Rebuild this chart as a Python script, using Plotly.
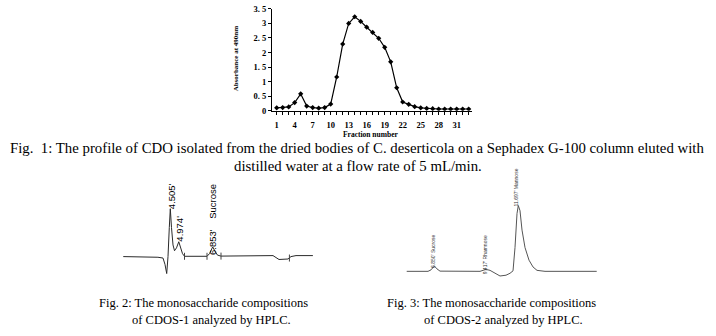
import plotly.graph_objects as go

W, H = 716, 336

# ---------------- Fig. 1 data (Sephadex G-100 elution profile) ----------------
fractions = list(range(1, 34))
absorbance = [0.10, 0.11, 0.13, 0.28, 0.58, 0.16, 0.11, 0.09, 0.11, 0.23,
              1.16, 2.29, 3.00, 3.23, 3.07, 2.87, 2.69, 2.49, 2.18, 1.68,
              0.79, 0.30, 0.22, 0.14, 0.10, 0.08, 0.07, 0.06, 0.06, 0.06,
              0.06, 0.06, 0.06]
x_tick_labels = ["1", "4", "7", "10", "13", "16", "19", "22", "25", "28", "31"]
y_tick_vals = [0, 0.5, 1, 1.5, 2, 2.5, 3, 3.5]
y_tick_text = ["0", "0. 5", "1", "1. 5", "2", "2. 5", "3", "3. 5"]

# ---------------- Fig. 2 data (HPLC of CDOS-1) ----------------
cdos1_time = [1.90, 3.38, 3.82, 4.10, 4.21, 4.306, 4.378, 4.45, 4.505, 4.571,
              4.655, 4.738, 4.848, 4.974, 5.07, 5.181, 5.291, 6.537, 6.676,
              6.853, 6.98, 7.118, 7.312, 10.192, 10.524, 10.801, 11.022,
              11.188, 11.465, 12.40]
cdos1_signal = [0, 0, -0.7, -1.5, -8, -17.5, 0, 30, 49.3, 30,
                12, 6, 9, 15.3, 10, 3, 0.3, 0.3, 3,
                10, 5.5, 1.5, 0.5, 1, -3, -2.8, -2.5,
                0, 1, 1]
cdos1_marks_t = [5.291, 6.537, 7.312, 11.10]
cdos1_marks_v = [0.3, 0.3, 0.5, -1.5]
cdos1_labels = ["4.505'", "4.974'", "6.853'    Sucrose"]

# ---------------- Fig. 3 data (HPLC of CDOS-2) ----------------
cdos2_time = [5.252, 6.485, 6.659, 6.850, 7.006, 7.180, 9.496, 9.670, 9.844,
              10.076, 10.307, 10.654, 11.002, 11.234, 11.408, 11.523, 11.639,
              11.714, 11.813, 11.929, 12.102, 12.334, 12.565, 12.797, 13.26,
              16.254]
cdos2_signal = [0, 0, 1.5, 5.5, 2.5, 0.2, 0, 1, 2,
                1, -1, -4.8, -4, -2, 0.5, 24.5, 59.5,
                67.8, 62.5, 42.5, 24.5, 11.5, 4.5, 1, 0,
                0]
cdos2_labels = ["6.850' Sucrose", "9.417' Rhamnose", "11.697' Mannose"]

caption1 = ["Fig.  1: The profile of CDO isolated from the dried bodies of C. deserticola on a Sephadex G-100 column eluted with",
            "distilled water at a flow rate of 5 mL/min."]
caption2 = ["Fig. 2: The monosaccharide compositions", "of CDOS-1 analyzed by HPLC."]
caption3 = ["Fig. 3: The monosaccharide compositions", "of CDOS-2 analyzed by HPLC."]


def fx(px):
    return px / W


def fy(py):
    return 1 - py / H


SERIF = "Liberation Serif"
SANS = "Liberation Sans"

fig = go.Figure()

fig.add_trace(go.Scatter(
    x=fractions, y=absorbance, mode="lines+markers",
    line=dict(color="black", width=1.2),
    marker=dict(symbol="diamond", size=4, color="black"),
    xaxis="x", yaxis="y", showlegend=False, hoverinfo="skip"))

fig.add_trace(go.Scatter(
    x=cdos1_time, y=cdos1_signal, mode="lines",
    line=dict(color="#2a2a2a", width=1),
    xaxis="x2", yaxis="y2", showlegend=False, hoverinfo="skip"))
fig.add_trace(go.Scatter(
    x=cdos1_marks_t, y=cdos1_marks_v, mode="markers",
    marker=dict(symbol="line-ns", size=5, line=dict(color="#444", width=1)),
    xaxis="x2", yaxis="y2", showlegend=False, hoverinfo="skip"))

fig.add_trace(go.Scatter(
    x=cdos2_time, y=cdos2_signal, mode="lines",
    line=dict(color="#555555", width=1),
    xaxis="x3", yaxis="y3", showlegend=False, hoverinfo="skip"))

tick_text_all = [str(f) if str(f) in x_tick_labels else "" for f in fractions]

tickfont = dict(family=SERIF, size=8.5, color="black", weight="bold")

fig.update_layout(
    width=W, height=H,
    margin=dict(l=0, r=0, t=0, b=0),
    paper_bgcolor="white", plot_bgcolor="rgba(0,0,0,0)",
    xaxis=dict(domain=[fx(272), fx(472)], range=[0.217, 33.55],
               showline=True, linecolor="black", linewidth=1,
               ticks="outside", ticklen=3, tickcolor="black", tickwidth=1,
               tickmode="array", tickvals=fractions, ticktext=tick_text_all,
               ticklabelstandoff=3, ticklabeloverflow="allow",
               tickfont=tickfont, showgrid=False, zeroline=False,
               fixedrange=True),
    yaxis=dict(domain=[fy(109), fy(4)], range=[0, 3.5001],
               showline=True, linecolor="black", linewidth=1,
               ticks="outside", ticklen=3, tickcolor="black", tickwidth=1,
               tickmode="array", tickvals=y_tick_vals, ticktext=y_tick_text,
               ticklabeloverflow="allow",
               tickfont=tickfont, showgrid=False, zeroline=False,
               fixedrange=True),
    xaxis2=dict(domain=[fx(123), fx(313)], range=[1.886, 12.406],
                visible=False, anchor="y2"),
    yaxis2=dict(domain=[fy(280), fy(200)], range=[-20.7, 59.3],
                visible=False, anchor="x2"),
    xaxis3=dict(domain=[fx(406), fx(597)], range=[5.211, 16.271],
                visible=False, anchor="y3"),
    yaxis3=dict(domain=[fy(285), fy(165)], range=[-10.5, 109.5],
                visible=False, anchor="x3"),
)

ann = []


def text(px, py, s, size, family=SERIF, anchor="center", angle=0, weight="normal", color="black"):
    ann.append(dict(x=fx(px), y=fy(py), xref="paper", yref="paper", text=s,
                    showarrow=False, xanchor=anchor, yanchor="middle",
                    textangle=angle,
                    font=dict(family=family, size=size, color=color, weight=weight)))


# axis titles of Fig. 1
text(370, 133, "Fraction number", 7.5, weight="bold")
text(236, 55, "Absorbance at 490nm", 7, angle=-90, weight="bold")

# captions
text(8, 147, caption1[0], 14.8, anchor="left")
text(358, 166, caption1[1], 14.8)
text(97, 307, caption2[0], 12.5, anchor="left")
text(130, 325, caption2[1], 12.5, anchor="left")
text(385, 307, caption3[0], 12.5, anchor="left")
text(422, 325, caption3[1], 12.5, anchor="left")

# peak labels Fig. 2
text(171, 197, cdos1_labels[0], 9.5, family=SANS, angle=-90)
text(179.5, 231, cdos1_labels[1], 9.5, family=SANS, angle=-90)
text(212.5, 221, cdos1_labels[2], 9.5, family=SANS, angle=-90)

# peak labels Fig. 3
text(433.5, 254, cdos2_labels[0], 5, family=SANS, angle=-90, color="#333")
text(485, 258, cdos2_labels[1], 5, family=SANS, angle=-90, color="#333")
text(516, 188, cdos2_labels[2], 5, family=SANS, angle=-90, color="#333")

fig.update_layout(annotations=ann)

fig.write_html("out.html")
